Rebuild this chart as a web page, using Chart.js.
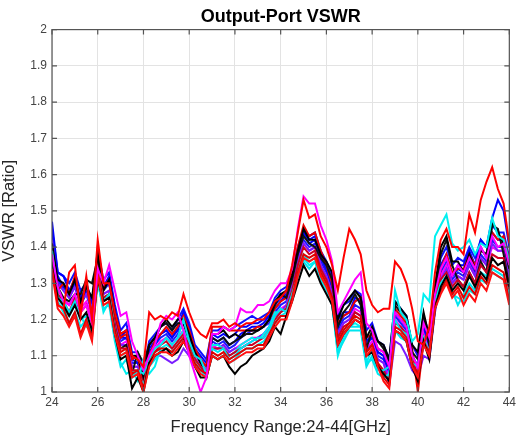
<!DOCTYPE html>
<html><head><meta charset="utf-8">
<script src="https://cdn.jsdelivr.net/npm/chart.js@4"></script>
<style>html,body{margin:0;padding:0;background:#fff}#wrap{width:519px;height:437px}</style>
</head><body><div id="wrap"><canvas id="c" width="519" height="437"></canvas></div>
<script>
const freqStart = 24, freqStep = 0.25;
const xTicks = [24,26,28,30,32,34,36,38,40,42,44];
const yTicks = [1,1.1,1.2,1.3,1.4,1.5,1.6,1.7,1.8,1.9,2];
const titleText = "Output-Port VSWR";
const xLabel = "Frequency Range:24-44[GHz]";
const yLabel = "VSWR [Ratio]";

const s01 = [1.36,1.26,1.24,1.21,1.24,1.20,1.22,1.17,1.31,1.25,1.26,1.16,1.09,1.10,1.01,1.04,1.00,1.08,1.10,1.11,1.12,1.10,1.11,1.14,1.11,1.07,1.04,1.04,1.10,1.09,1.10,1.07,1.05,1.07,1.08,1.10,1.11,1.12,1.14,1.18,1.16,1.21,1.25,1.30,1.35,1.32,1.34,1.30,1.27,1.24,1.13,1.16,1.18,1.20,1.19,1.10,1.11,1.07,1.05,1.03,1.17,1.16,1.14,1.07,1.03,1.14,1.09,1.23,1.29,1.32,1.28,1.30,1.28,1.32,1.29,1.33,1.31,1.37,1.35,1.36,1.29];
const s02 = [1.34,1.24,1.23,1.33,1.35,1.21,1.32,1.20,1.42,1.30,1.30,1.22,1.16,1.17,1.10,1.09,1.07,1.22,1.20,1.21,1.20,1.22,1.21,1.27,1.22,1.18,1.16,1.15,1.19,1.19,1.20,1.18,1.19,1.18,1.19,1.19,1.20,1.20,1.22,1.25,1.26,1.28,1.35,1.44,1.53,1.48,1.49,1.43,1.40,1.35,1.28,1.37,1.45,1.42,1.38,1.28,1.24,1.22,1.23,1.23,1.36,1.34,1.30,1.23,1.14,1.13,1.18,1.33,1.42,1.45,1.40,1.40,1.38,1.49,1.44,1.53,1.58,1.62,1.56,1.52,1.41];
const s03 = [1.38,1.29,1.25,1.24,1.27,1.22,1.24,1.19,1.34,1.30,1.35,1.28,1.21,1.22,1.14,1.10,1.06,1.10,1.13,1.19,1.21,1.20,1.22,1.17,1.10,1.05,1.00,1.04,1.16,1.16,1.18,1.17,1.18,1.23,1.22,1.22,1.24,1.24,1.25,1.28,1.30,1.30,1.34,1.45,1.54,1.52,1.52,1.46,1.42,1.36,1.22,1.25,1.28,1.31,1.33,1.19,1.17,1.12,1.11,1.07,1.22,1.20,1.18,1.10,1.07,1.19,1.15,1.27,1.34,1.37,1.32,1.35,1.33,1.37,1.34,1.40,1.37,1.43,1.40,1.41,1.35];
const s04 = [1.39,1.27,1.23,1.21,1.24,1.21,1.18,1.17,1.31,1.22,1.25,1.15,1.08,1.05,1.06,1.03,1.09,1.05,1.07,1.12,1.13,1.12,1.14,1.17,1.13,1.09,1.07,1.05,1.13,1.13,1.12,1.10,1.11,1.13,1.14,1.15,1.14,1.16,1.18,1.22,1.22,1.23,1.28,1.34,1.38,1.36,1.37,1.33,1.30,1.25,1.10,1.15,1.18,1.19,1.18,1.08,1.12,1.07,1.05,1.04,1.28,1.22,1.20,1.14,1.16,1.27,1.25,1.43,1.46,1.49,1.41,1.39,1.40,1.42,1.38,1.41,1.40,1.48,1.43,1.42,1.36];
const s05 = [1.38,1.26,1.25,1.22,1.25,1.20,1.21,1.16,1.33,1.25,1.27,1.17,1.10,1.11,1.04,1.06,1.05,1.09,1.12,1.13,1.15,1.13,1.15,1.20,1.14,1.10,1.09,1.05,1.12,1.11,1.12,1.09,1.10,1.12,1.13,1.14,1.15,1.15,1.17,1.21,1.23,1.22,1.27,1.32,1.36,1.34,1.36,1.31,1.29,1.24,1.11,1.14,1.17,1.17,1.17,1.07,1.10,1.06,1.06,1.07,1.20,1.17,1.16,1.08,1.07,1.15,1.11,1.25,1.30,1.32,1.28,1.24,1.27,1.30,1.28,1.33,1.32,1.34,1.33,1.32,1.26];
const s06 = [1.47,1.33,1.32,1.28,1.31,1.26,1.29,1.24,1.38,1.29,1.32,1.23,1.15,1.17,1.10,1.09,1.02,1.12,1.14,1.16,1.17,1.15,1.18,1.22,1.18,1.12,1.10,1.08,1.16,1.15,1.16,1.15,1.16,1.18,1.18,1.19,1.19,1.20,1.21,1.24,1.26,1.27,1.32,1.39,1.44,1.42,1.43,1.38,1.34,1.30,1.20,1.22,1.22,1.26,1.25,1.14,1.16,1.11,1.10,1.03,1.22,1.20,1.18,1.10,1.07,1.18,1.13,1.27,1.35,1.38,1.32,1.35,1.35,1.39,1.35,1.42,1.40,1.48,1.53,1.50,1.40];
const s07 = [1.42,1.30,1.28,1.26,1.29,1.25,1.27,1.23,1.35,1.27,1.28,1.19,1.13,1.13,1.07,1.07,1.03,1.09,1.10,1.10,1.09,1.08,1.09,1.12,1.10,1.07,1.06,1.05,1.12,1.12,1.13,1.11,1.12,1.12,1.13,1.14,1.15,1.16,1.18,1.21,1.22,1.24,1.29,1.36,1.41,1.39,1.40,1.35,1.32,1.27,1.16,1.19,1.20,1.22,1.21,1.12,1.13,1.09,1.08,1.02,1.14,1.13,1.10,1.06,1.04,1.10,1.09,1.22,1.31,1.34,1.30,1.32,1.31,1.35,1.32,1.37,1.35,1.41,1.39,1.39,1.32];
const s08 = [1.37,1.28,1.30,1.27,1.32,1.24,1.30,1.21,1.40,1.29,1.31,1.21,1.15,1.16,1.09,1.10,1.01,1.10,1.14,1.16,1.18,1.16,1.18,1.21,1.17,1.12,1.09,1.07,1.18,1.18,1.18,1.17,1.17,1.17,1.17,1.17,1.18,1.18,1.20,1.23,1.25,1.26,1.33,1.40,1.46,1.43,1.44,1.39,1.35,1.30,1.19,1.21,1.22,1.25,1.26,1.15,1.16,1.12,1.11,1.07,1.23,1.21,1.19,1.12,1.00,1.14,1.10,1.23,1.34,1.38,1.33,1.34,1.34,1.38,1.35,1.39,1.38,1.44,1.42,1.43,1.36];
const s09 = [1.40,1.29,1.26,1.25,1.27,1.27,1.31,1.30,1.37,1.26,1.27,1.18,1.12,1.13,1.05,1.11,1.08,1.13,1.15,1.18,1.19,1.17,1.19,1.19,1.14,1.09,1.07,1.04,1.15,1.14,1.15,1.13,1.14,1.15,1.16,1.16,1.17,1.18,1.20,1.24,1.27,1.26,1.31,1.38,1.43,1.41,1.40,1.37,1.35,1.31,1.18,1.22,1.24,1.27,1.24,1.12,1.17,1.14,1.12,1.08,1.24,1.22,1.20,1.11,1.09,1.21,1.13,1.27,1.38,1.42,1.35,1.31,1.29,1.33,1.30,1.36,1.33,1.46,1.45,1.38,1.29];
const s10 = [1.35,1.24,1.23,1.19,1.22,1.16,1.20,1.15,1.33,1.25,1.26,1.17,1.11,1.12,1.05,1.06,1.01,1.08,1.11,1.12,1.12,1.11,1.13,1.15,1.12,1.08,1.06,1.05,1.11,1.10,1.11,1.09,1.10,1.11,1.12,1.12,1.13,1.13,1.16,1.19,1.21,1.21,1.26,1.33,1.38,1.37,1.38,1.33,1.30,1.26,1.14,1.17,1.19,1.21,1.20,1.11,1.13,1.08,1.04,1.02,1.18,1.17,1.15,1.08,1.05,1.14,1.11,1.24,1.28,1.31,1.27,1.29,1.26,1.29,1.27,1.32,1.30,1.35,1.34,1.33,1.25];
const s11 = [1.44,1.32,1.29,1.27,1.30,1.25,1.28,1.23,1.37,1.29,1.30,1.21,1.15,1.15,1.09,1.08,1.03,1.11,1.13,1.16,1.17,1.15,1.17,1.22,1.16,1.11,1.09,1.07,1.15,1.14,1.15,1.13,1.14,1.16,1.17,1.18,1.18,1.19,1.21,1.23,1.25,1.27,1.31,1.38,1.44,1.41,1.42,1.37,1.34,1.29,1.18,1.21,1.22,1.25,1.26,1.14,1.15,1.11,1.10,1.06,1.22,1.20,1.18,1.10,1.07,1.18,1.13,1.28,1.35,1.37,1.32,1.34,1.33,1.38,1.34,1.40,1.37,1.44,1.42,1.42,1.35];
const s12 = [1.39,1.28,1.26,1.24,1.26,1.23,1.25,1.21,1.35,1.27,1.28,1.19,1.13,1.14,1.07,1.07,1.04,1.10,1.12,1.14,1.15,1.13,1.15,1.17,1.14,1.10,1.07,1.06,1.13,1.12,1.13,1.11,1.12,1.13,1.14,1.15,1.15,1.16,1.18,1.21,1.23,1.24,1.29,1.36,1.41,1.39,1.40,1.35,1.32,1.27,1.16,1.19,1.20,1.23,1.22,1.12,1.14,1.09,1.08,1.04,1.20,1.18,1.16,1.08,1.06,1.16,1.11,1.25,1.32,1.35,1.30,1.32,1.31,1.35,1.32,1.37,1.35,1.40,1.39,1.39,1.31];
const s13 = [1.36,1.27,1.25,1.22,1.26,1.22,1.24,1.19,1.34,1.26,1.27,1.18,1.12,1.12,1.06,1.06,1.02,1.09,1.11,1.13,1.14,1.12,1.14,1.16,1.13,1.09,1.07,1.05,1.12,1.12,1.12,1.10,1.11,1.12,1.13,1.13,1.14,1.15,1.17,1.20,1.22,1.23,1.28,1.35,1.40,1.38,1.39,1.34,1.31,1.26,1.15,1.18,1.19,1.22,1.21,1.11,1.13,1.08,1.06,1.03,1.19,1.18,1.16,1.08,1.05,1.15,1.10,1.24,1.31,1.33,1.29,1.31,1.29,1.33,1.30,1.35,1.33,1.38,1.37,1.37,1.27];
const s14 = [1.41,1.31,1.28,1.26,1.29,1.24,1.27,1.22,1.36,1.28,1.30,1.20,1.14,1.15,1.08,1.08,1.04,1.11,1.13,1.15,1.16,1.14,1.16,1.19,1.15,1.10,1.08,1.06,1.14,1.13,1.14,1.12,1.13,1.15,1.16,1.17,1.17,1.18,1.19,1.22,1.24,1.25,1.30,1.37,1.42,1.40,1.41,1.36,1.33,1.28,1.17,1.20,1.21,1.24,1.23,1.13,1.15,1.10,1.09,1.05,1.21,1.19,1.17,1.09,1.06,1.17,1.12,1.26,1.33,1.36,1.31,1.33,1.32,1.36,1.33,1.38,1.36,1.42,1.40,1.40,1.33];
const s15 = [1.45,1.33,1.32,1.30,1.33,1.28,1.30,1.25,1.39,1.31,1.33,1.24,1.17,1.19,1.11,1.11,1.06,1.14,1.16,1.18,1.19,1.17,1.20,1.23,1.19,1.13,1.11,1.09,1.17,1.17,1.18,1.17,1.18,1.19,1.20,1.21,1.20,1.21,1.22,1.26,1.28,1.29,1.33,1.40,1.45,1.43,1.44,1.39,1.36,1.32,1.21,1.24,1.25,1.28,1.27,1.17,1.19,1.14,1.13,1.09,1.25,1.23,1.21,1.13,1.10,1.21,1.16,1.30,1.37,1.40,1.35,1.37,1.36,1.40,1.37,1.42,1.40,1.46,1.44,1.44,1.37];
const s16 = [1.41,1.31,1.30,1.27,1.31,1.25,1.29,1.26,1.38,1.28,1.31,1.22,1.16,1.17,1.10,1.10,1.04,1.13,1.15,1.18,1.20,1.18,1.20,1.20,1.16,1.11,1.08,1.05,1.16,1.16,1.17,1.15,1.16,1.15,1.17,1.17,1.17,1.18,1.20,1.25,1.27,1.28,1.32,1.39,1.45,1.42,1.42,1.38,1.36,1.33,1.20,1.24,1.26,1.28,1.26,1.15,1.18,1.14,1.13,1.09,1.25,1.23,1.21,1.13,1.11,1.22,1.15,1.29,1.40,1.43,1.36,1.36,1.33,1.38,1.34,1.39,1.38,1.47,1.44,1.41,1.34];
const s17 = [1.37,1.25,1.22,1.19,1.22,1.18,1.20,1.16,1.30,1.23,1.24,1.14,1.07,1.09,1.04,1.05,1.02,1.07,1.09,1.11,1.12,1.11,1.13,1.15,1.12,1.08,1.06,1.04,1.10,1.09,1.10,1.08,1.09,1.11,1.12,1.12,1.13,1.14,1.16,1.19,1.21,1.22,1.26,1.32,1.37,1.35,1.36,1.31,1.28,1.24,1.12,1.16,1.18,1.18,1.18,1.08,1.09,1.05,1.04,1.05,1.17,1.15,1.14,1.07,1.05,1.13,1.10,1.23,1.28,1.30,1.27,1.26,1.25,1.28,1.27,1.31,1.30,1.33,1.32,1.31,1.27];
const s18 = [1.33,1.23,1.21,1.18,1.21,1.15,1.19,1.14,1.32,1.24,1.25,1.16,1.10,1.11,1.04,1.05,1.00,1.07,1.10,1.11,1.11,1.10,1.12,1.14,1.11,1.07,1.05,1.04,1.10,1.09,1.10,1.08,1.09,1.10,1.11,1.11,1.12,1.12,1.15,1.18,1.20,1.20,1.25,1.32,1.37,1.36,1.37,1.32,1.29,1.25,1.13,1.16,1.18,1.20,1.19,1.10,1.12,1.07,1.03,1.01,1.17,1.16,1.14,1.07,1.04,1.13,1.10,1.23,1.27,1.30,1.26,1.28,1.24,1.27,1.25,1.30,1.28,1.33,1.32,1.31,1.24];

const seriesList = [s02, s03, s18, s01, s10, s17, s05, s13, s04, s16, s09, s08, s07, s12, s11, s06, s15, s14];
const seriesColors = ["#ff0000","#ff00ff","#ff1010","#000000","#e00000","#00e8f0","#00e5ee","#cc0022","#00f0f0","#000000","#111111","#ee0000","#7a1cff","#ff00ff","#0000ff","#0000ff","#1010ff","#1a1aff"];

function toPoints(arr){ return arr.map((v,i)=>({x: freqStart + i*freqStep, y: v})); }

const datasets = seriesList.map((arr,k)=>({
  data: toPoints(arr),
  borderColor: seriesColors[k],
  borderWidth: 2,
  pointRadius: 0,
  tension: 0,
  fill: false
}));

const FONT = "'Liberation Sans', Arial, Helvetica, sans-serif";

const boxPlugin = {
  id: 'box',
  afterDatasetsDraw(chart){
    const {ctx, chartArea:a, scales} = chart;
    ctx.save();
    ctx.strokeStyle = '#555555';
    ctx.lineWidth = 1.2;
    ctx.strokeRect(a.left, a.top, a.right - a.left, a.bottom - a.top);
    ctx.beginPath();
    const tl = 5;
    scales.x.ticks.forEach(t=>{
      const px = scales.x.getPixelForValue(t.value);
      ctx.moveTo(px, a.bottom); ctx.lineTo(px, a.bottom - tl);
      ctx.moveTo(px, a.top); ctx.lineTo(px, a.top + tl);
    });
    scales.y.ticks.forEach(t=>{
      const py = scales.y.getPixelForValue(t.value);
      ctx.moveTo(a.left, py); ctx.lineTo(a.left + tl, py);
      ctx.moveTo(a.right, py); ctx.lineTo(a.right - tl, py);
    });
    ctx.stroke();
    ctx.restore();
  }
};

new Chart(document.getElementById('c'), {
  type: 'line',
  data: { datasets },
  plugins: [boxPlugin],
  options: {
    responsive: false,
    animation: false,
    devicePixelRatio: 1,
    layout: { padding: { left: 0, right: 9, top: 0, bottom: 0 } },
    plugins: {
      legend: { display: false },
      tooltip: { enabled: false },
      title: {
        display: true, text: titleText, fullSize: false,
        color: '#000000',
        font: { family: FONT, size: 18, weight: 'bold' },
        padding: { top: 6, bottom: 2 }
      }
    },
    scales: {
      x: {
        type: 'linear', min: 24, max: 44,
        afterBuildTicks(s){ s.ticks = xTicks.map(v=>({value:v})); },
        ticks: { color: '#444444', font: { family: FONT, size: 12 }, padding: 3, maxRotation: 0,
                 callback: v => String(v) },
        grid: { color: '#e3e3e3', lineWidth: 1, drawTicks: false },
        border: { display: false },
        title: { display: true, text: xLabel, color: '#262626', font: { family: FONT, size: 16.5 }, padding: { top: 2, bottom: 0 } },
        afterFit(s){ s.height = 45; }
      },
      y: {
        type: 'linear', min: 1, max: 2,
        afterBuildTicks(s){ s.ticks = yTicks.map(v=>({value:v})); },
        ticks: { color: '#444444', font: { family: FONT, size: 12 }, padding: 5,
                 callback: v => String(Math.round(v*10)/10) },
        grid: { color: '#e3e3e3', lineWidth: 1, drawTicks: false },
        border: { display: false },
        title: { display: true, text: yLabel, color: '#262626', font: { family: FONT, size: 16.5 }, padding: { top: 0, bottom: 2 } },
        afterFit(s){ s.width = 52; }
      }
    }
  }
});
</script>
</body></html>
